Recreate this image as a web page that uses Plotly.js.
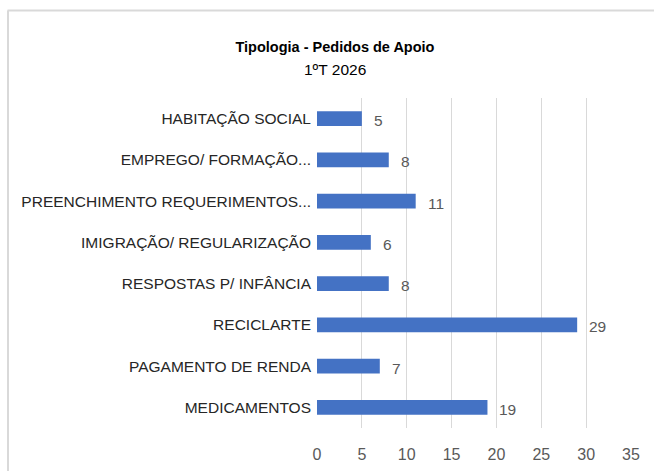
<!DOCTYPE html>
<html>
<head>
<meta charset="utf-8">
<script src="https://cdn.plot.ly/plotly-3.0.1.min.js"></script>
<style>
html,body{margin:0;padding:0;background:#fff;}
#chart{width:654px;height:471px;}
</style>
</head>
<body>
<div id="chart"></div>
<script>
const categories = [
  "HABITAÇÃO SOCIAL",
  "EMPREGO/ FORMAÇÃO...",
  "PREENCHIMENTO REQUERIMENTOS...",
  "IMIGRAÇÃO/ REGULARIZAÇÃO",
  "RESPOSTAS P/ INFÂNCIA",
  "RECICLARTE",
  "PAGAMENTO DE RENDA",
  "MEDICAMENTOS"
];
const values = [5, 8, 11, 6, 8, 29, 7, 19];
const xTicks = [0, 5, 10, 15, 20, 25, 30, 35];
const chartTitle = "Tipologia - Pedidos de Apoio";
const chartSubtitle = "1ºT 2026";

const FONT = "Liberation Sans, Arial, sans-serif";
const cx = (335 - 317) / 314;

const trace = {
  type: "bar",
  orientation: "h",
  x: values,
  y: categories,
  marker: {color: "#4472C4"},
  width: 0.36,
  hoverinfo: "none"
};

const labelAnns = values.map((v, i) => ({
  x: v, y: categories[i], xref: "x", yref: "y",
  text: String(v), showarrow: false, xanchor: "left", xshift: 10, yshift: -2,
  font: {family: FONT, size: 15.5, color: "#595959"}
}));

const layout = {
  width: 654, height: 471,
  margin: {l: 317, r: 23, t: 98, b: 43},
  paper_bgcolor: "#ffffff", plot_bgcolor: "#ffffff",
  showlegend: false,
  font: {family: FONT, size: 15, color: "#404040"},
  title: {
    text: "<b>" + chartTitle + "</b>",
    font: {family: FONT, size: 14.5, color: "#000000"},
    x: cx, xref: "paper", xanchor: "center",
    y: 1 - 47/471, yref: "container", yanchor: "middle"
  },
  annotations: [{
    text: chartSubtitle, xref: "paper", yref: "paper",
    x: cx, y: 1 + (98-70)/330, xanchor: "center", yanchor: "middle",
    showarrow: false, font: {family: FONT, size: 15.5, color: "#000000"}
  }].concat(labelAnns),
  xaxis: {
    range: [0, 35], tickvals: xTicks, ticktext: xTicks.map(String),
    showgrid: true, gridcolor: "#d9d9d9", gridwidth: 1,
    zeroline: false, showline: false, ticks: "",
    ticklabelstandoff: 15,
    tickfont: {family: FONT, size: 16, color: "#595959"},
    fixedrange: true
  },
  yaxis: {
    type: "category", autorange: "reversed",
    showgrid: false, zeroline: false, showline: false, ticks: "",
    ticklabelstandoff: 5,
    tickfont: {family: FONT, size: 15.5, color: "#262626"},
    fixedrange: true
  },
  shapes: [
    {type: "line", xref: "paper", yref: "paper",
     x0: (7.5-317)/314, x1: (654-317)/314, y0: 1 + (98-10.5)/330, y1: 1 + (98-10.5)/330,
     line: {color: "#d9d9d9", width: 2}},
    {type: "line", xref: "paper", yref: "paper",
     x0: (8-317)/314, x1: (8-317)/314, y0: 1 + (98-10.5)/330, y1: -43/330,
     line: {color: "#d9d9d9", width: 2}}
  ]
};

Plotly.newPlot("chart", [trace], layout, {displayModeBar: false, staticPlot: true});
</script>
</body>
</html>
